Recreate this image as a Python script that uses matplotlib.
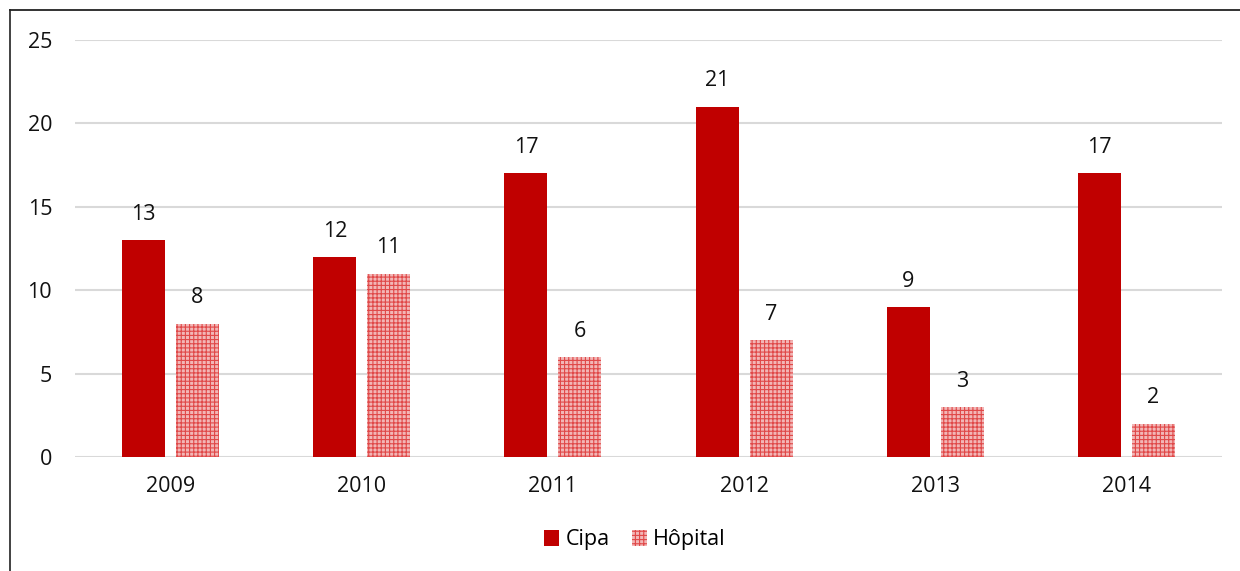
import matplotlib
matplotlib.use("Agg")
import matplotlib.pyplot as plt
from matplotlib.lines import Line2D
from matplotlib.patches import Patch
import numpy as np

years = ["2009", "2010", "2011", "2012", "2013", "2014"]
cipa = [13, 12, 17, 21, 9, 17]
hopital = [8, 11, 6, 7, 3, 2]
yticks = [0, 5, 10, 15, 20, 25]

RED = "#C00000"
PINK = "#F2B6B6"
HATCH_COL = "#E04848"
FS = 15.5
plt.rcParams["font.family"] = ["Open Sans", "DejaVu Sans"]
plt.rcParams["hatch.linewidth"] = 0.8

fig = plt.figure(figsize=(12.4, 5.71), dpi=100)
ax = fig.add_axes([75 / 1240, 114 / 571, 1147 / 1240, 417 / 571])

x = np.arange(len(years))
w = 0.225
off = 0.141
ax.bar(x - off, cipa, width=w, color=RED, linewidth=0, zorder=3)
ax.bar(x + off, hopital, width=w, facecolor=PINK, edgecolor=HATCH_COL,
       hatch="++++", linewidth=0, zorder=3)

for xi, c, h in zip(x, cipa, hopital):
    ax.annotate(str(c), (xi - off, c), xytext=(0, 11), textcoords="offset points",
                ha="center", va="bottom", fontsize=FS, color="#111111")
    ax.annotate(str(h), (xi + off, h), xytext=(0, 11), textcoords="offset points",
                ha="center", va="bottom", fontsize=FS, color="#111111")

ax.set_xlim(-0.5, len(years) - 0.5)
ax.set_ylim(0, 25)
ax.set_yticks(yticks)
ax.set_xticks(x)
ax.set_xticklabels(years)
ax.tick_params(axis="both", length=0, labelsize=FS, colors="#111111")
ax.tick_params(axis="y", pad=16.5)
ax.tick_params(axis="x", pad=14)
ax.yaxis.grid(True, color="#D9D9D9", lw=1.5, zorder=0)
for s in ax.spines.values():
    s.set_visible(False)

handles = [Patch(facecolor=RED, linewidth=0),
           Patch(facecolor=PINK, edgecolor=HATCH_COL, hatch="++++", linewidth=0)]
fig.legend(handles, ["Cipa", "Hôpital"], loc="center", bbox_to_anchor=(635 / 1240, 1 - 540 / 571),
           ncol=2, frameon=False, fontsize=FS, handlelength=0.7, handleheight=0.7,
           handletextpad=0.3, columnspacing=1.0)

# cadre du graphique (coupé à droite et en bas)
fig.add_artist(Line2D([10 / 1240, 10 / 1240], [0, 1 - 10 / 571], color="#333333", lw=1.3,
                      transform=fig.transFigure))
fig.add_artist(Line2D([10 / 1240, 1], [1 - 10 / 571, 1 - 10 / 571], color="#222222", lw=1.3,
                      transform=fig.transFigure))

fig.savefig("out.png", dpi=100)
